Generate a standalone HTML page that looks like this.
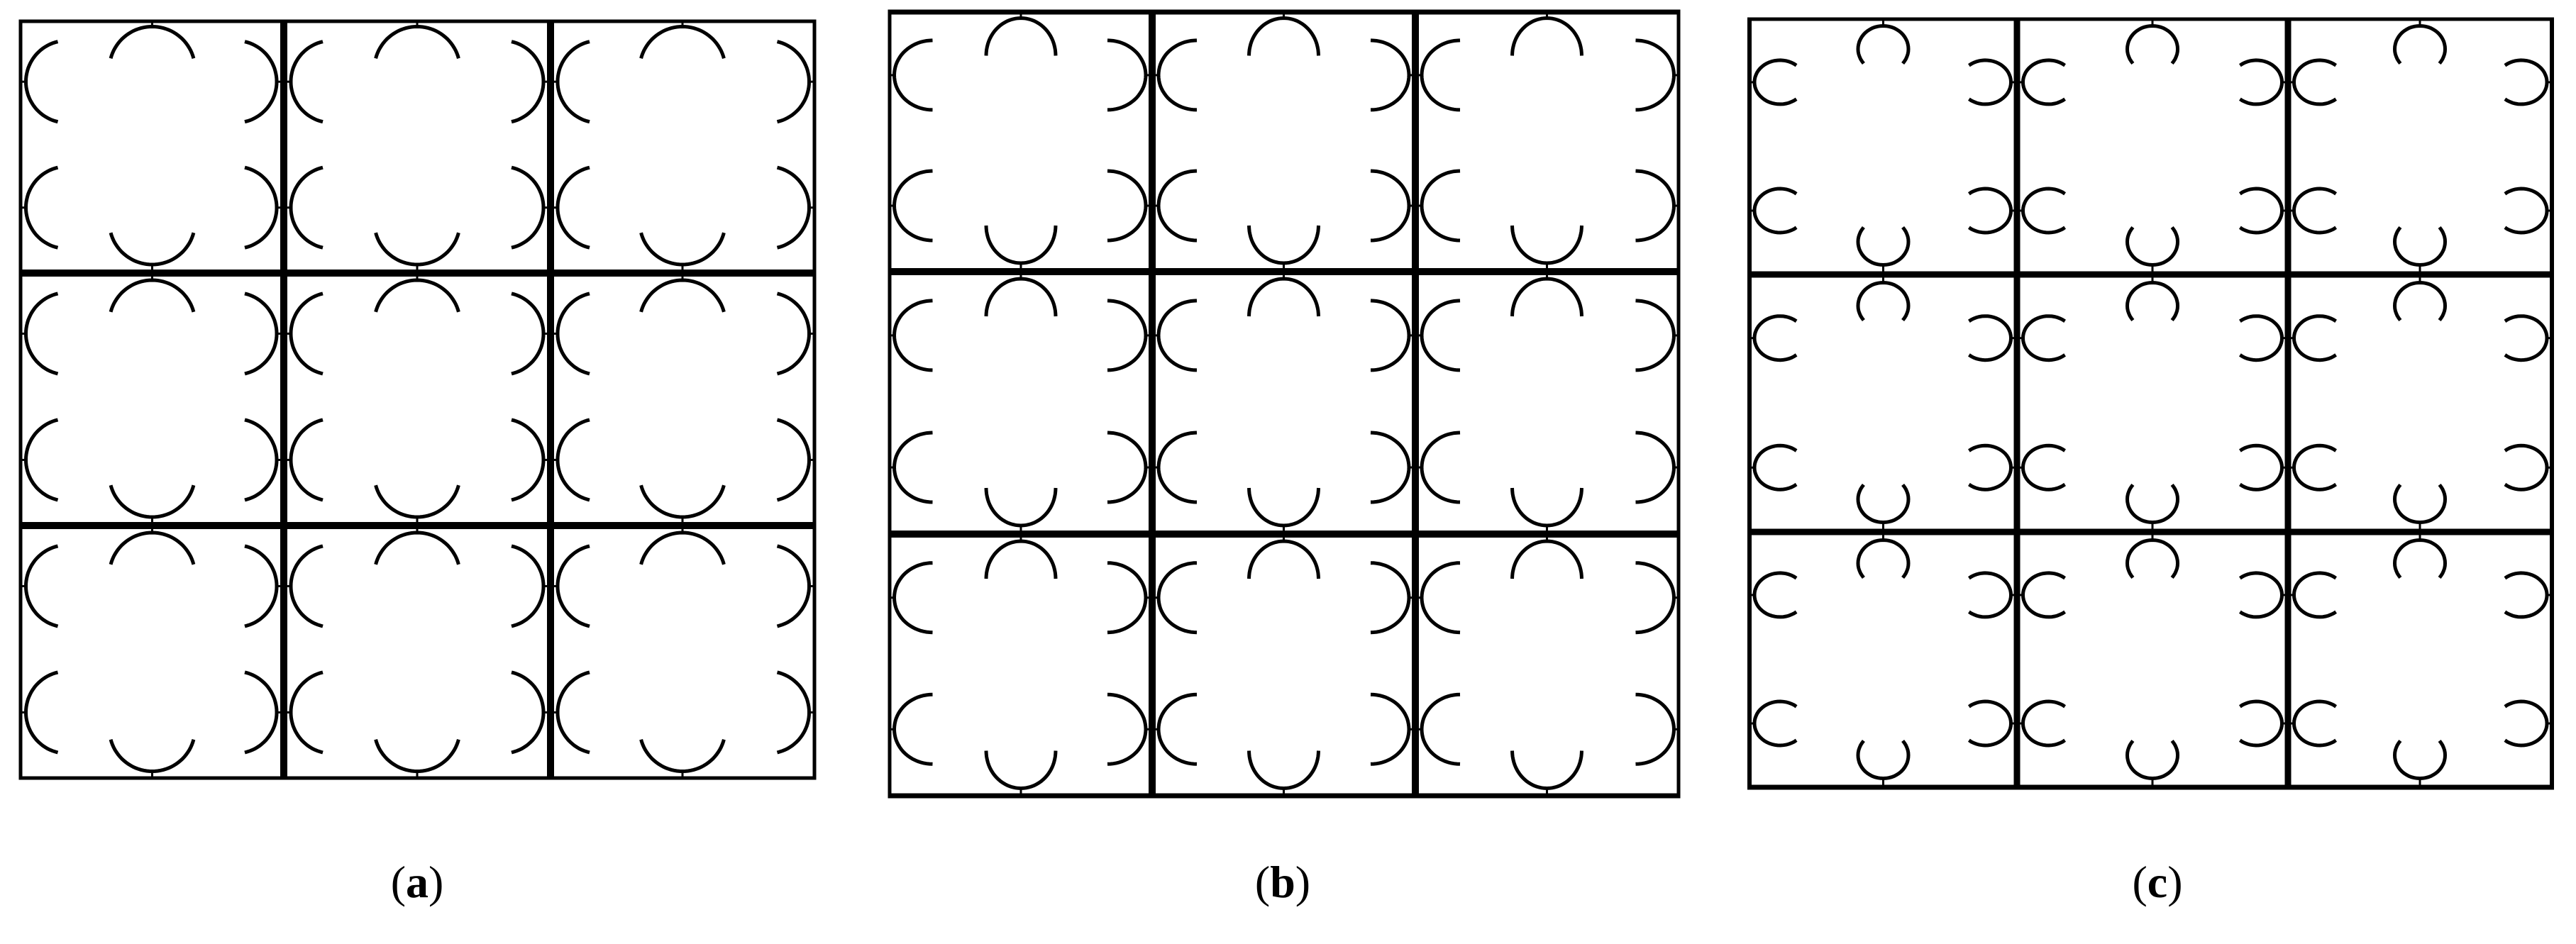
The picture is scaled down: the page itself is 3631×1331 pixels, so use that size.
<!DOCTYPE html>
<html><head><meta charset="utf-8"><style>
html,body{margin:0;padding:0;background:#fff;}
body{width:3631px;height:1331px;position:relative;overflow:hidden;}
svg{position:absolute;left:0;top:0;}
.lbl{position:absolute;font-family:"Liberation Serif",serif;font-size:64px;color:#000;transform:translateX(-50%);top:1212px;line-height:1;white-space:nowrap;}
</style></head><body>
<svg id="s" width="3631" height="1331" xmlns="http://www.w3.org/2000/svg"></svg>
<div class="lbl" style="left:588px">(<b>a</b>)</div>
<div class="lbl" style="left:1808px">(<b>b</b>)</div>
<div class="lbl" style="left:3041px">(<b>c</b>)</div>
<script>
var svg=document.getElementById('s');var out='';
function pathPts(pts){var d='M'+pts[0][0].toFixed(1)+','+pts[0][1].toFixed(1);for(var i=1;i<pts.length;i++)d+='L'+pts[i][0].toFixed(1)+','+pts[i][1].toFixed(1);out+='<path d="'+d+'" fill="none" stroke="#000" stroke-width="5"/>';}
function line(x1,y1,x2,y2,w){out+='<line x1="'+x1+'" y1="'+y1+'" x2="'+x2+'" y2="'+y2+'" stroke="#000" stroke-width="'+w+'"/>';}
// side arc: extreme at (ex,ey), dir=+1 opens right (left arc), -1 opens left
function sideArc(ex,ey,dir,rx,ry,th){var p=[];for(var k=0;k<=40;k++){var t=(-th+2*th*k/40)*Math.PI/180;p.push([ex+dir*rx*(1-Math.cos(t)),ey+ry*Math.sin(t)]);}pathPts(p);}
function vArc(ex,ey,dir,rx,ry,th){var p=[];for(var k=0;k<=40;k++){var t=(-th+2*th*k/40)*Math.PI/180;p.push([ex+rx*Math.sin(t),ey+dir*ry*(1-Math.cos(t))]);}pathPts(p);}
function panel(P){
 var xs=P.xs,ys=P.ys;
 for(var i=0;i<3;i++)for(var j=0;j<3;j++){
  var L=xs[i],R=xs[i+1],T=ys[j],B=ys[j+1];
  var lo=P.vw[i]/2+P.g,ro=P.vw[i+1]/2+P.g,to=P.hw[j]/2+P.gt,bo=P.hw[j+1]/2+P.gb;
  var cx=(L+R)/2;
  [P.f1,P.f2].forEach(function(f){var yc=T+f*(B-T);
   sideArc(L+lo,yc,1,P.s[0],P.s[1],P.s[2]);line(L,yc,L+lo+1,yc,3);
   sideArc(R-ro,yc,-1,P.s[0],P.s[1],P.s[2]);line(R,yc,R-ro-1,yc,3);});
  vArc(cx,T+to,1,P.t[0],P.t[1],P.t[2]);line(cx,T,cx,T+to+1,3);
  vArc(cx,B-bo,-1,P.t[0],P.t[1],P.t[2]);line(cx,B,cx,B-bo-1,3);
 }
 for(var i=0;i<4;i++)line(xs[i],ys[0]-P.hw[0]/2,xs[i],ys[3]+P.hw[3]/2,P.vw[i]);
 for(var j=0;j<4;j++)line(xs[0]-P.vw[0]/2,ys[j],xs[3]+P.vw[3]/2,ys[j],P.hw[j]);
}
panel({xs:[29,400,776,1148],ys:[30,385,741,1097],vw:[5,10,10,5],hw:[5,10,10,5],g:5,gt:5,gb:7,f1:0.24,f2:0.74,s:[58,58,77],t:[60.5,60.5,75]});
panel({xs:[1254,1624,1995,2366],ys:[17,383,753,1122],vw:[5,10,10,5],hw:[7,10,10,7],g:4,gt:5,gb:7,f1:0.243,f2:0.746,s:[54,49,90],t:[49,53,90]});
panel({xs:[2466,2843,3225,3597],ys:[27,387,750,1110],vw:[6,9,9,6],hw:[5,9,9,7],g:4,gt:7,gb:9,f1:0.247,f2:0.75,s:[36,31,130],t:[35.5,32.5,129]});
svg.innerHTML=out;
</script>
</body></html>
